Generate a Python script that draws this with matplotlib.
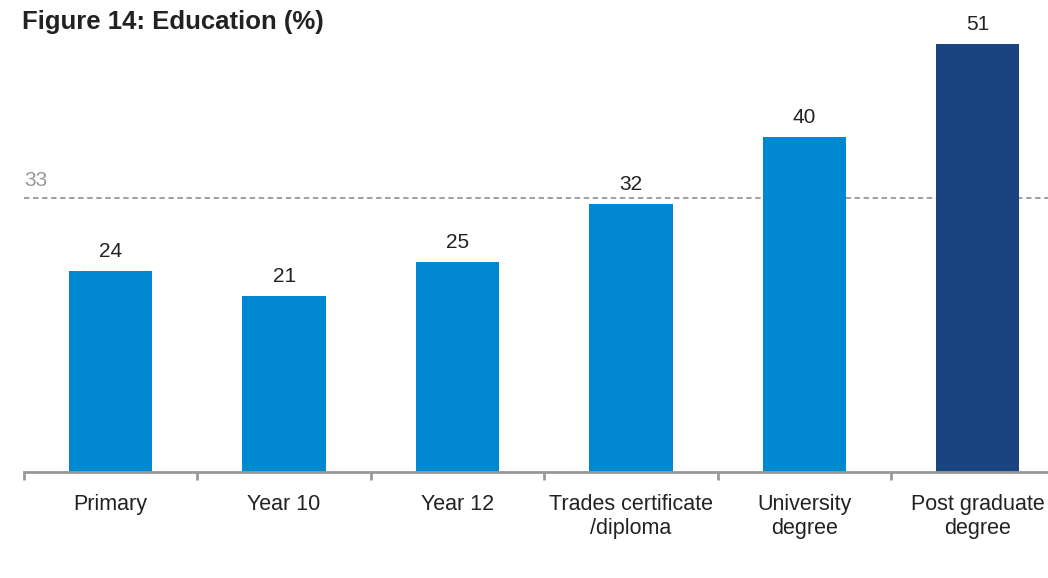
import matplotlib.pyplot as plt
import numpy as np

plt.rcParams['font.family'] = ['Liberation Sans', 'DejaVu Sans']

categories = ["Primary", "Year 10", "Year 12", "Trades certificate\n/diploma",
              "University\ndegree", "Post graduate\ndegree"]
values = [24, 21, 25, 32, 40, 51]
average = 33

blue = "#0089d1"
dark = "#1a4480"
colors = [blue] * 5 + [dark]

fig = plt.figure(figsize=(10.48, 5.78), dpi=100)
ax = fig.add_axes([24 / 1048, 106 / 578, 1 - 24 / 1048, 472 / 578])

x = np.arange(len(values))
bars = ax.bar(x, values, width=0.48, color=colors, zorder=2)
for xi, v in zip(x, values):
    ax.text(xi, v + 1.2, str(v), ha="center", va="bottom", fontsize=15, color="#222222")

ax.axhline(average - 0.35, color="#999999", lw=1.3, ls=(0, (3, 2)), zorder=1)
ax.text(-0.5, average + 0.6, str(average), ha="left", va="bottom", fontsize=15, color="#999999")

ax.set_xlim(-0.5, 5.405)
ax.set_ylim(0, 56.3)
for s in ["top", "right", "left"]:
    ax.spines[s].set_visible(False)
ax.spines["bottom"].set_color("#999999")
ax.spines["bottom"].set_linewidth(2)
ax.set_yticks([])

ax.set_xticks(np.arange(-0.5, 5.5, 1.0))
ax.set_xticklabels([])
ax.tick_params(axis="x", length=6, width=2, color="#999999")
ax.set_xticks(x, minor=True)
ax.set_xticklabels(categories, minor=True, fontsize=15.5, color="#222222", linespacing=1.2)
ax.tick_params(axis="x", which="minor", length=0, pad=16)

fig.text(22 / 1048, 1 - 22 / 578, "Figure 14: Education (%)", fontsize=18.5,
         fontweight="bold", color="#222222", ha="left", va="center")

fig.savefig("out.png", dpi=100)
